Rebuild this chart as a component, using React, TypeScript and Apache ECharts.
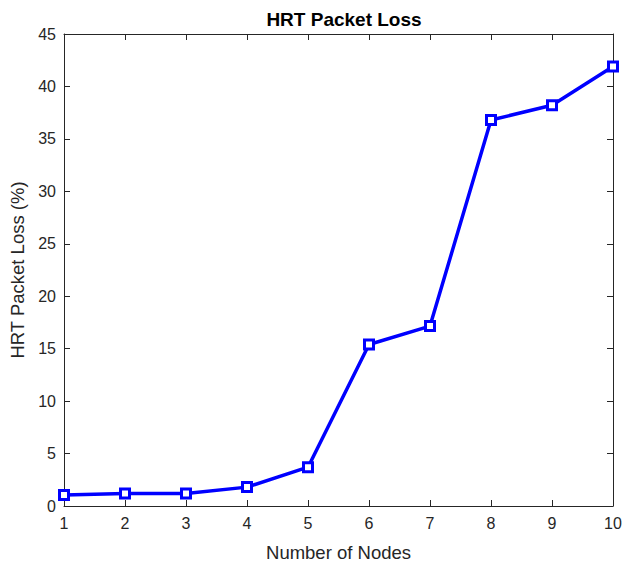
import React, { useEffect, useRef } from "react";
import * as echarts from "echarts";

const nodes = [1, 2, 3, 4, 5, 6, 7, 8, 9, 10];
const loss = [1.05, 1.2, 1.2, 1.8, 3.7, 15.4, 17.15, 36.8, 38.2, 41.9];
const yTicks = [0, 5, 10, 15, 20, 25, 30, 35, 40, 45];

export default function App() {
  const ref = useRef<HTMLDivElement>(null);
  useEffect(() => {
    const chart = echarts.init(ref.current!, null, { renderer: "svg" });
    const axisColor = "#262626";
    const font = "'Liberation Sans', Arial, Helvetica, sans-serif";
    const baseX = {
      type: "value" as const,
      min: 1,
      max: 10,
      interval: 1,
      axisLine: { show: true, onZero: false, lineStyle: { color: axisColor, width: 1 } },
      axisTick: { show: true, inside: true, length: 6, lineStyle: { color: axisColor } },
      splitLine: { show: false },
    };
    const baseY = {
      type: "value" as const,
      min: yTicks[0],
      max: yTicks[yTicks.length - 1],
      interval: 5,
      axisLine: { show: true, onZero: false, lineStyle: { color: axisColor, width: 1 } },
      axisTick: { show: true, inside: true, length: 6, lineStyle: { color: axisColor } },
      splitLine: { show: false },
    };
    chart.setOption({
      animation: false,
      backgroundColor: "#ffffff",
      title: {
        text: "HRT Packet Loss",
        left: 339,
        textAlign: "center",
        top: 5,
        textStyle: { fontFamily: font, fontSize: 19, fontWeight: "bold", color: "#000" },
      },
      grid: { left: 64, right: 22, top: 34, bottom: 58, containLabel: false },
      xAxis: [
        {
          ...baseX,
          position: "bottom",
          name: "Number of Nodes",
          nameLocation: "middle",
          nameGap: 37,
          nameTextStyle: { fontFamily: font, fontSize: 18.5, color: "#262626" },
          axisLabel: { fontFamily: font, fontSize: 16, color: "#262626", margin: 9 },
        },
        { ...baseX, position: "top", axisLabel: { show: false } },
      ],
      yAxis: [
        {
          ...baseY,
          position: "left",
          name: "HRT Packet Loss (%)",
          nameLocation: "middle",
          nameGap: 31,
          nameRotate: 90,
          nameTextStyle: { fontFamily: font, fontSize: 18.5, color: "#262626" },
          axisLabel: { fontFamily: font, fontSize: 16, color: "#262626", margin: 8 },
        },
        { ...baseY, position: "right", axisLabel: { show: false } },
      ],
      series: [
        {
          type: "line",
          data: nodes.map((n, i) => [n, loss[i]]),
          symbol: "rect",
          symbolSize: 9,
          lineStyle: { color: "#0000ff", width: 3.5 },
          itemStyle: { color: "#ffffff", borderColor: "#0000ff", borderWidth: 3 },
          z: 5,
        },
      ],
    });
    return () => chart.dispose();
  }, []);
  return <div ref={ref} style={{ width: 635, height: 567, position: "absolute", left: 0, top: 0 }} />;
}
